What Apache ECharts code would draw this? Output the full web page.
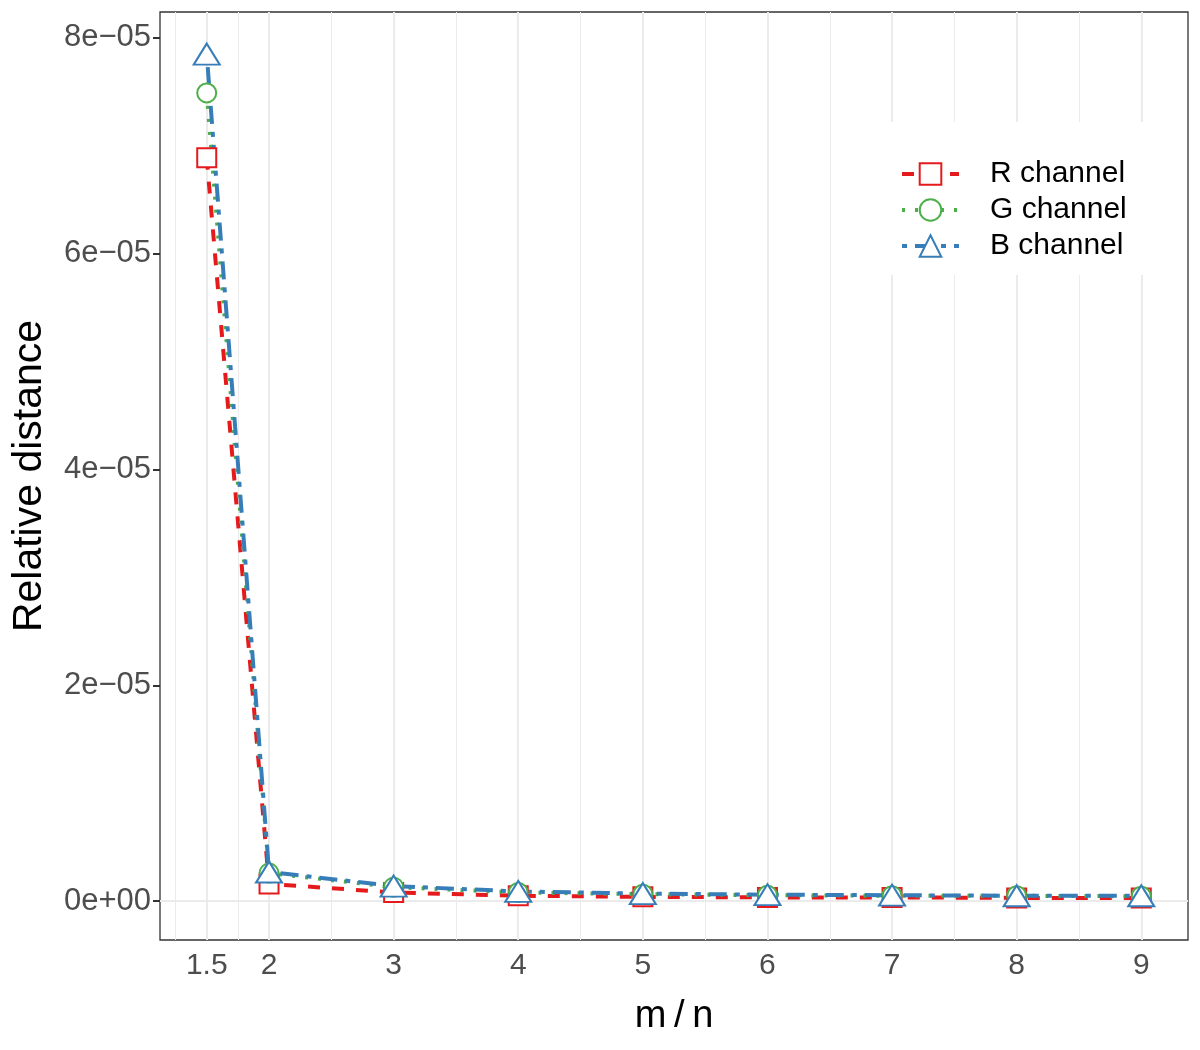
<!DOCTYPE html>
<html><head><meta charset="utf-8">
<script src="https://cdn.jsdelivr.net/npm/echarts@6/dist/echarts.min.js"></script>
<style>html,body{margin:0;padding:0;background:#fff}#c{width:1200px;height:1050px}</style>
</head><body><div id="c"></div>
<script>
const xValues = [1.5, 2, 3, 4, 5, 6, 7, 8, 9];
const rChannel = [6.89e-5, 0.16e-5, 0.08e-5, 0.05e-5, 0.04e-5, 0.035e-5, 0.035e-5, 0.03e-5, 0.03e-5];
const gChannel = [7.49e-5, 0.26e-5, 0.13e-5, 0.08e-5, 0.065e-5, 0.055e-5, 0.05e-5, 0.05e-5, 0.045e-5];
const bChannel = [7.85e-5, 0.27e-5, 0.14e-5, 0.09e-5, 0.07e-5, 0.06e-5, 0.055e-5, 0.05e-5, 0.05e-5];
const xTicks = [1.5, 2, 3, 4, 5, 6, 7, 8, 9];
const xMinor = [1.25, 1.75, 2.5, 3.5, 4.5, 5.5, 6.5, 7.5, 8.5];
const yTicks = [0, 2e-5, 4e-5, 6e-5, 8e-5];
const yTickLabels = ['0e+00', '2e\u221205', '4e\u221205', '6e\u221205', '8e\u221205'];
const yMinor = [1e-5, 3e-5, 5e-5, 7e-5];

const font = '"Liberation Sans", Arial, sans-serif';
const gridLines = [];
xMinor.forEach(v => gridLines.push({xAxis: v, lineStyle: {color: '#EBEBEB', width: 1, type: 'solid'}}));
yMinor.forEach(v => gridLines.push({yAxis: v, lineStyle: {color: '#EBEBEB', width: 1, type: 'solid'}}));
xTicks.forEach(v => gridLines.push({xAxis: v, lineStyle: {color: '#EBEBEB', width: 2, type: 'solid'}}));
yTicks.forEach(v => gridLines.push({yAxis: v, lineStyle: {color: '#EBEBEB', width: 2, type: 'solid'}}));

function mk(name, data, color, symbol, size, dash) {
  return {
    name, type: 'line', data: xValues.map((x, i) => [x, data[i]]),
    symbol, symbolSize: size, showSymbol: true,
    lineStyle: {color, width: 4, type: dash},
    itemStyle: {color, borderColor: color, borderWidth: 3},
    z: 3, animation: false
  };
}

const chart = echarts.init(document.getElementById('c'), null, {renderer: 'canvas'});
chart.setOption({
  backgroundColor: '#fff',
  animation: false,
  grid: {left: 160, right: 12, top: 12, bottom: 110, show: true, borderColor: '#333333', borderWidth: 1.3,
    backgroundColor: 'transparent', outerBoundsMode: 'none', containLabel: false},
  xAxis: {
    type: 'value', min: 1.125, max: 9.375,
    name: 'm\u2009/\u2009n', nameLocation: 'middle', nameGap: 58,
    nameTextStyle: {fontFamily: font, fontSize: 38, color: '#000'},
    axisLine: {show: false},
    splitLine: {show: false},
    axisTick: {show: true, length: 7, lineStyle: {color: '#333', width: 2}, customValues: xTicks},
    axisLabel: {customValues: xTicks, fontFamily: font, fontSize: 30, color: '#4D4D4D', margin: 11,
      formatter: v => String(v)}
  },
  yAxis: {
    type: 'value', min: -0.36e-5, max: 8.24e-5,
    name: 'Relative distance', nameLocation: 'middle', nameGap: 110, nameRotate: 90,
    nameTextStyle: {fontFamily: font, fontSize: 41, color: '#000'},
    axisLine: {show: false},
    splitLine: {show: false},
    axisTick: {show: true, length: 7, lineStyle: {color: '#333', width: 2}, customValues: yTicks},
    axisLabel: {customValues: yTicks, fontFamily: font, fontSize: 31, color: '#4D4D4D', margin: 9,
      formatter: v => { const i = yTicks.findIndex(t => Math.abs(t - v) < 1e-9); return i >= 0 ? yTickLabels[i] : ''; }}
  },
  legend: {
    show: true, orient: 'vertical', left: 882, top: 122, z: 20,
    backgroundColor: '#fff', padding: [37, 24, 14, 18], itemGap: 6,
    itemWidth: 57, itemHeight: 27,
    lineStyle: {width: 4},
    itemStyle: {borderWidth: 3},
    textStyle: {fontFamily: font, fontSize: 30, lineHeight: 30, color: '#000', padding: [0, 0, 0, 26]},
    data: ['R channel', 'G channel', 'B channel']
  },
  series: [
    {type: 'line', data: [], silent: true, z: 1, zlevel: 0,
      markLine: {silent: true, symbol: 'none', label: {show: false}, animation: false, z: 1, data: gridLines}},
    mk('R channel', rChannel, '#E41A1C', 'emptyRect', 19, [12, 12]),
    mk('G channel', gChannel, '#4DAF4A', 'emptyCircle', 19, [3, 10]),
    mk('B channel', bChannel, '#377EB8', 'emptyTriangle', [26, 21], [5, 8, 18, 8])
  ]
});
</script></body></html>
